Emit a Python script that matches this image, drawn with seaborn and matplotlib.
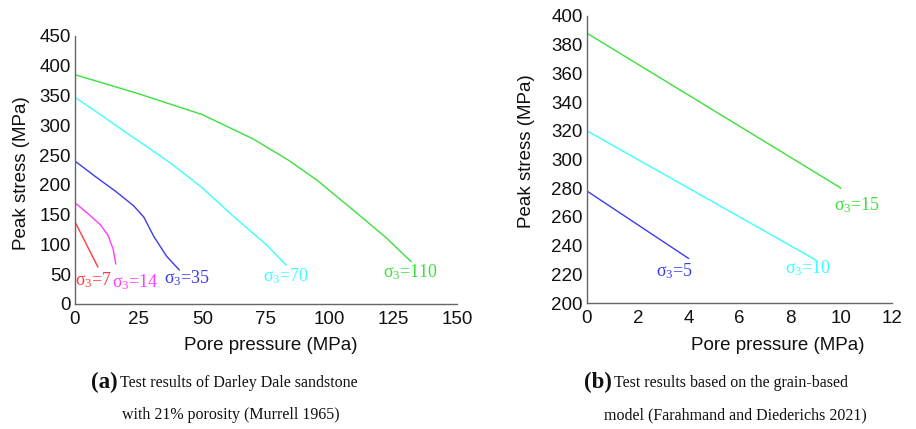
import matplotlib
matplotlib.use('Agg')
import matplotlib.pyplot as plt
import seaborn as sns
import pandas as pd

# ---- dati pannello (a): Murrell 1965 ----
p7_x = [0, 9]
p7_y = [138, 62]
p14_x = [0, 5, 10, 13, 15, 16]
p14_y = [170, 152, 133, 115, 92, 67]
p35_x = [0, 8, 16, 23, 27, 31, 36, 41]
p35_y = [240, 214, 189, 165, 146, 113, 80, 57]
p70_x = [0, 10, 20, 30, 38, 50, 62, 75, 83]
p70_y = [347, 318, 288, 259, 235, 195, 148, 100, 65]
p110_x = [0, 25, 50, 70, 84, 95, 110, 122, 132]
p110_y = [385, 353, 318, 277, 241, 208, 155, 112, 71]

# ---- dati pannello (b): grain-based model ----
g5_x = [0, 4]
g5_y = [278, 231]
g10_x = [0, 9]
g10_y = [320, 230]
g15_x = [0, 10]
g15_y = [388, 280]

sig_a = ['7', '14', '35', '70', '110']
sig_b = ['5', '10', '15']

c_red = '#ff3b3b'
c_mag = '#ff3bff'
c_blue = '#3b3bee'
c_cyan = '#3bffff'
c_green = '#3be03b'

sns.set_style('white')
plt.rcParams['font.family'] = ['Liberation Sans', 'DejaVu Sans']
plt.rcParams['mathtext.fontset'] = 'stix'

fig = plt.figure(figsize=(9.16, 4.29), dpi=100)
ax1 = fig.add_axes([75 / 916, 1 - 304 / 429, 382 / 916, 268 / 429])
ax2 = fig.add_axes([587 / 916, 1 - 303 / 429, 305 / 916, 287 / 429])


def draw(ax, xs, ys, color):
    df = pd.DataFrame({'x': xs, 'y': ys})
    sns.lineplot(data=df, x='x', y='y', ax=ax, color=color, lw=1.0, sort=False)


for xs, ys, col in [(p7_x, p7_y, c_red), (p14_x, p14_y, c_mag), (p35_x, p35_y, c_blue),
                    (p70_x, p70_y, c_cyan), (p110_x, p110_y, c_green)]:
    draw(ax1, xs, ys, col)

for xs, ys, col in [(g5_x, g5_y, c_blue), (g10_x, g10_y, c_cyan), (g15_x, g15_y, c_green)]:
    draw(ax2, xs, ys, col)

# etichette sigma_3
lab_a = [(0, 40, c_red), (14.5, 37, c_mag), (35, 43, c_blue), (74, 47, c_cyan), (121, 54, c_green)]
for s, (x, y, col) in zip(sig_a, lab_a):
    ax1.text(x, y, r'$\mathregular{\sigma_3}$=' + s, color=col, fontsize=13,
             family='Liberation Serif', ha='left', va='center')
lab_b = [(2.7, 222, c_blue), (7.8, 224, c_cyan), (9.7, 268, c_green)]
for s, (x, y, col) in zip(sig_b, lab_b):
    ax2.text(x, y, r'$\mathregular{\sigma_3}$=' + s, color=col, fontsize=13,
             family='Liberation Serif', ha='left', va='center')

ax1.set_xlim(0, 150)
ax1.set_ylim(0, 450)
ax1.set_xticks([0, 25, 50, 75, 100, 125, 150])
ax1.set_yticks(range(0, 451, 50))
ax2.set_xlim(0, 12)
ax2.set_ylim(200, 400)
ax2.set_xticks(range(0, 13, 2))
ax2.set_yticks(range(200, 401, 20))

for ax in (ax1, ax2):
    sns.despine(ax=ax)
    for sp in ('left', 'bottom'):
        ax.spines[sp].set_color('#666666')
        ax.spines[sp].set_linewidth(1.0)
    ax.tick_params(direction='in', length=5, width=1, color='#666666',
                   labelsize=13.5, labelcolor='#111111')
    ax.tick_params(axis='x', pad=5)
    ax.tick_params(axis='y', pad=3)
    ax.set_xlabel('Pore pressure (MPa)', fontsize=13.5, color='#111111')
    ax.set_ylabel('Peak stress (MPa)', fontsize=13.5, color='#111111')

ax1.xaxis.set_label_coords(0.513, -0.125)
ax1.yaxis.set_label_coords(-0.118, 0.49)
ax2.xaxis.set_label_coords(0.626, -0.12)
ax2.yaxis.set_label_coords(-0.17, 0.53)

# didascalie
cap = dict(family='Liberation Serif', fontsize=11.5, color='#111111', va='center')
fig.text(118 / 916, 1 - 382 / 429, '(a)', fontweight='bold', ha='right', **{**cap, 'fontsize': 16.5})
fig.text(120 / 916, 1 - 383 / 429, 'Test results of Darley Dale sandstone', ha='left', **cap)
fig.text(231 / 916, 1 - 415 / 429, 'with 21% porosity (Murrell 1965)', ha='center', **cap)
fig.text(612 / 916, 1 - 382 / 429, '(b)', fontweight='bold', ha='right', **{**cap, 'fontsize': 16.5})
fig.text(614 / 916, 1 - 383 / 429, 'Test results based on the grain-based', ha='left', **cap)
fig.text(735 / 916, 1 - 415 / 429, 'model (Farahmand and Diederichs 2021)', ha='center', **cap)

fig.savefig('out.png', dpi=100)
